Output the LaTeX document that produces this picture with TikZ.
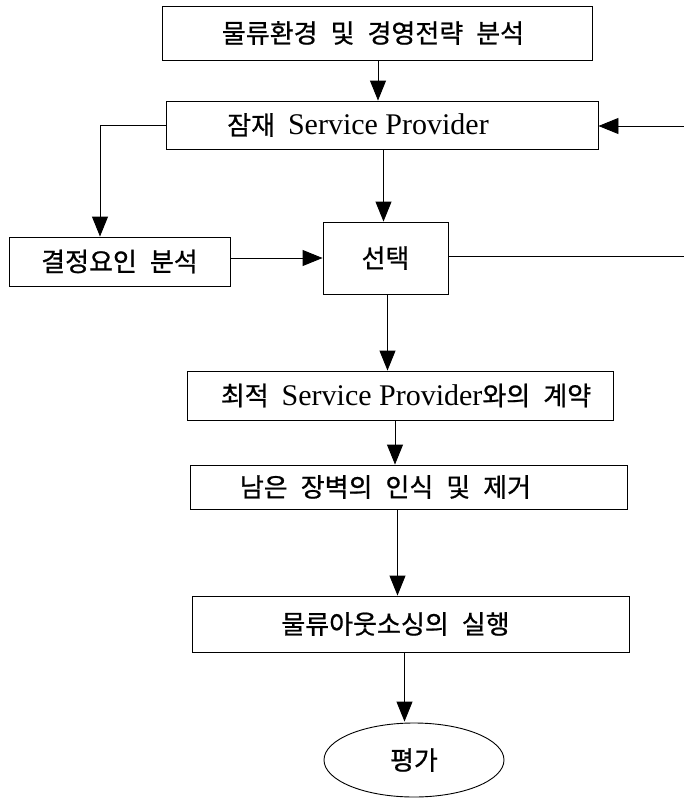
\documentclass[tikz,border=0pt]{standalone}
\usepackage{fontspec}
\setmainfont{Liberation Serif}
\newfontfamily\krf[FakeBold=0.8]{Noto Sans CJK KR}
\newfontfamily\latf{Liberation Serif}
\newcommand\latx[1]{{\latf\fontsize{30}{32}\selectfont #1}}
\newcommand\gp{\hspace{0.5em}}
\usetikzlibrary{arrows.meta,shapes.geometric,calc}
\begin{document}
\begin{tikzpicture}[x=1pt,y=-1pt,
  box/.style={draw, line width=0.9pt, rectangle, inner sep=0pt, anchor=center,
    font=\krf\fontsize{26}{30}\selectfont},
  oval/.style={draw, line width=0.9pt, ellipse, inner sep=0pt, minimum width=180pt,
    minimum height=74pt, font=\krf\fontsize{26}{30}\selectfont},
  arr/.style={line width=0.9pt, -{Triangle[length=20pt,width=16pt]}},
  ln/.style={line width=0.9pt}]
\useasboundingbox (0,0) rectangle (684,798);
\node[box, minimum width=430pt, minimum height=54pt] (B1) at (377,33)
  {물류환경\gp 및\gp 경영전략\gp 분석\hspace*{8pt}};
\node[box, minimum width=432pt, minimum height=48pt] (B2) at (382,125)
  {잠재\gp\latx{Service Provider}\hspace*{48pt}};
\node[box, minimum width=221pt, minimum height=49pt] (K) at (119.5,261.5)
  {결정요인\gp 분석};
\node[box, minimum width=125pt, minimum height=72pt] (S) at (385.5,258)
  {선택};
\node[box, minimum width=426pt, minimum height=49pt] (C) at (400,395.5)
  {\hspace*{12pt}최적\gp\latx{Service Provider}와의\gp 계약};
\node[box, minimum width=437pt, minimum height=44pt] (N) at (408.5,487)
  {남은\gp 장벽의\gp 인식\gp 및\gp 제거\hspace*{46pt}};
\node[box, minimum width=437pt, minimum height=56pt] (M) at (410.5,624)
  {물류아웃소싱의\gp 실행\hspace*{30pt}};
\node[oval] (E) at (414,760) {평가};
\coordinate (R1) at (684,256);
\coordinate (R2) at (684,126);
% connectors
\draw[arr] ([xshift=1pt]B1.south) -- ([xshift=1pt]B1.south |- B2.north);
\draw[arr] ([xshift=-2pt]S.north |- B2.south) -- ([xshift=-2pt]S.north);
\draw[arr] ([xshift=2pt]S.south) -- ([xshift=2pt]S.south |- C.north);
\draw[arr] ([xshift=-5pt]C.south) -- ([xshift=-5pt]C.south |- N.north);
\draw[arr] ([xshift=-11pt]N.south) -- ([xshift=-11pt]N.south |- M.north);
\draw[arr] ([xshift=-6pt]M.south) -- ([xshift=-6pt,yshift=1pt]M.south |- E.north);
\draw[arr] (B2.west) -| ([xshift=-19.5pt]K.north);
\draw[arr] (S.west -| K.east) -- (S.west);
\draw[ln] (S.east |- R1) -- (R1);
\draw[arr] (R2) -- (R2 -| B2.east);
\end{tikzpicture}
\end{document}
